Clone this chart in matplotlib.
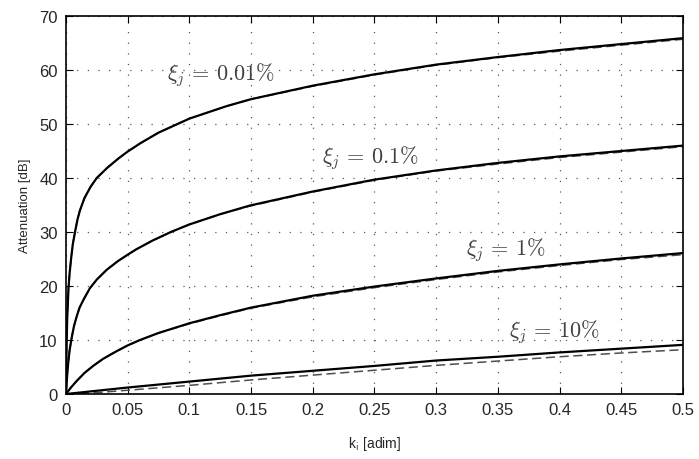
import numpy as np
import matplotlib
matplotlib.use("Agg")
import matplotlib.pyplot as plt

plt.rcParams["font.family"] = ["Liberation Sans", "DejaVu Sans"]
plt.rcParams["mathtext.fontset"] = "cm"

# values (k_i, attenuation in dB); solid = exact, dashed = approx
k_001 = [0, 0.0005, 0.001, 0.002, 0.003, 0.0041, 0.0055, 0.0073, 0.0093, 0.0113, 0.015, 0.02,
         0.0249, 0.0335, 0.0424, 0.05, 0.06, 0.075, 0.1, 0.13, 0.15, 0.2, 0.25, 0.3, 0.35, 0.4, 0.45, 0.5]
att_001 = [0, 9.0, 14.0, 19.5, 22.5, 25.0, 27.7, 30.0, 32.3, 34.0, 36.3, 38.4,
           40.0, 41.9, 43.6, 44.9, 46.4, 48.4, 51.0, 53.3, 54.6, 57.1, 59.2, 61.0, 62.4, 63.7, 64.8, 65.9]
att_001_approx = [0, 9.0, 14.0, 19.5, 22.5, 25.0, 27.7, 30.0, 32.3, 34.0, 36.3, 38.4,
                  40.0, 41.9, 43.6, 44.9, 46.4, 48.4, 51.0, 53.3, 54.6, 57.0, 59.1, 60.9, 62.3, 63.5, 64.6, 65.7]

k_01 = [0, 0.0005, 0.001, 0.0019, 0.003, 0.0046, 0.0065, 0.0086, 0.011, 0.0145, 0.0194, 0.025,
        0.033, 0.042, 0.05, 0.057, 0.07, 0.085, 0.1, 0.125, 0.149, 0.2, 0.25, 0.3, 0.35, 0.4, 0.45, 0.5]
att_01 = [0, 1.9, 3.6, 6.0, 8.2, 10.4, 12.6, 14.3, 16.0, 17.6, 19.6, 21.2,
          23.0, 24.6, 25.8, 26.8, 28.4, 30.0, 31.4, 33.3, 34.9, 37.5, 39.7, 41.4, 42.8, 44.0, 45.0, 46.0]
att_01_approx = [0, 1.9, 3.6, 6.0, 8.2, 10.4, 12.6, 14.3, 16.0, 17.6, 19.6, 21.2,
                 23.0, 24.6, 25.8, 26.8, 28.4, 30.0, 31.4, 33.3, 34.8, 37.4, 39.6, 41.3, 42.6, 43.8, 44.8, 45.8]

k_1 = [0, 0.004, 0.0086, 0.015, 0.022, 0.03, 0.04, 0.05, 0.06, 0.075, 0.1, 0.125, 0.15,
       0.2, 0.25, 0.3, 0.35, 0.4, 0.45, 0.5]
att_1 = [0, 1.2, 2.4, 3.9, 5.2, 6.5, 7.8, 9.0, 10.0, 11.3, 13.1, 14.6, 16.0,
         18.2, 19.9, 21.4, 22.8, 24.0, 25.1, 26.1]
att_1_approx = [0, 1.2, 2.4, 3.9, 5.2, 6.5, 7.8, 9.0, 10.0, 11.3, 13.0, 14.5, 15.9,
                18.0, 19.7, 21.2, 22.6, 23.8, 24.9, 25.8]

k_10 = [0, 0.025, 0.05, 0.1, 0.15, 0.2, 0.25, 0.3, 0.35, 0.4, 0.45, 0.5]
att_10 = [0, 0.6, 1.2, 2.3, 3.4, 4.3, 5.2, 6.2, 6.9, 7.7, 8.4, 9.1]
att_10_approx = [0, 0.25, 0.7, 1.6, 2.6, 3.5, 4.4, 5.3, 6.1, 6.9, 7.6, 8.2]

labels = [r"$\xi_j \,=\, 0.01\%$", r"$\xi_j \,=\, 0.1\%$", r"$\xi_j \,=\, 1\%$", r"$\xi_j \,=\, 10\%$"]
label_pos = [(0.1256, 59.3), (0.247, 43.9), (0.356, 26.9), (0.396, 11.7)]

fig = plt.figure(figsize=(6.99, 4.60), dpi=100)
ax = fig.add_axes([0.0944, 0.1413, 0.8826, 0.8217])

series = [(k_001, att_001, att_001_approx), (k_01, att_01, att_01_approx),
          (k_1, att_1, att_1_approx), (k_10, att_10, att_10_approx)]
for k, exact, approx in series:
    ax.plot(k, approx, "--", color="0.3", lw=1.1, dashes=(6, 3), zorder=2)
    ax.plot(k, exact, "-", color="k", lw=1.6, zorder=3)

for txt, (x, y) in zip(labels, label_pos):
    ax.text(x, y, txt, fontsize=16, ha="center", va="center", color="0.25")

ax.set_xlim(0, 0.5)
ax.set_ylim(0, 70)
ax.set_xticks(np.arange(0, 0.51, 0.05))
ax.set_xticklabels(["0", "0.05", "0.1", "0.15", "0.2", "0.25", "0.3", "0.35", "0.4", "0.45", "0.5"])
ax.set_yticks(np.arange(0, 71, 10))
ax.grid(True, linestyle=(0, (1, 7.5)), color="0.35", lw=0.9)
ax.tick_params(direction="in", top=True, right=True, length=5, labelsize=12, pad=6,
               labelcolor="0.15")
for s in ax.spines.values():
    s.set_linewidth(1.2)
ax.set_xlabel(r"k$_{\mathsf{i}}$ [adim]", fontsize=10, labelpad=12, color="0.15")
ax.set_ylabel("Attenuation [dB]", fontsize=9.5, labelpad=6, color="0.15")

fig.savefig("out.png", dpi=100)
